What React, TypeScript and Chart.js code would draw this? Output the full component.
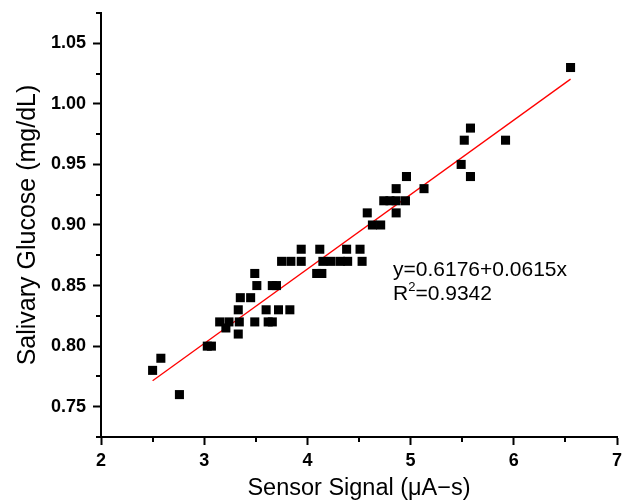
import React, { useEffect, useRef } from "react";
import { Chart, registerables } from "chart.js";

Chart.register(...registerables);

// Scatter data
const sensorSignal: number[] = [
  2.50, 2.58, 2.76, 3.03, 3.07, 3.15, 3.24, 3.34, 3.21, 3.33,
  3.33, 3.35, 3.45, 3.49, 3.51, 3.49, 3.60, 3.62, 3.66, 3.66,
  3.70, 3.72, 3.83, 3.75, 3.84, 3.94, 3.94, 4.09, 4.14, 4.12,
  4.15, 4.23, 4.32, 4.39, 4.38, 4.51, 4.53, 4.58, 4.63, 4.71,
  4.74, 4.80, 4.86, 4.95, 4.86, 4.86, 4.96, 5.13, 5.49, 5.52,
  5.58, 5.58, 5.92, 6.55,
];
const salivaryGlucose: number[] = [
  0.78, 0.79, 0.76, 0.80, 0.80, 0.82, 0.82, 0.82, 0.815, 0.81,
  0.83, 0.84, 0.84, 0.86, 0.85, 0.82, 0.83, 0.82, 0.82, 0.85,
  0.85, 0.83, 0.83, 0.87, 0.87, 0.87, 0.88, 0.86, 0.86, 0.88,
  0.87, 0.87, 0.87, 0.87, 0.88, 0.88, 0.87, 0.91, 0.90, 0.90,
  0.92, 0.92, 0.92, 0.92, 0.91, 0.93, 0.94, 0.93, 0.95, 0.97,
  0.98, 0.94, 0.97, 1.03,
];

// Fitted line endpoints (y = 0.6176 + 0.0615x)
const fitX: number[] = [2.5, 6.55];
const fitY: number[] = [0.7714, 1.0204];

const xMajorTicks: number[] = [2, 3, 4, 5, 6, 7];
const yMajorTicks: number[] = [0.75, 0.8, 0.85, 0.9, 0.95, 1.0, 1.05];
const xMinorTicks: number[] = [2.5, 3.5, 4.5, 5.5, 6.5];
const yMinorTicks: number[] = [0.725, 0.775, 0.825, 0.875, 0.925, 0.975, 1.025, 1.075];

const equationText = "y=0.6176+0.0615x";
const r2Value = "=0.9342";
const labelAnchorX = 4.83;
const eqAnchorY = 0.858;
const r2AnchorY = 0.838;

const FONT = "'Liberation Sans', Arial, Helvetica, sans-serif";

const minorTicksPlugin = {
  id: "minorTicks",
  afterDraw(chart: any) {
    const { ctx, scales } = chart;
    const xs = scales.x;
    const ys = scales.y;
    ctx.save();
    ctx.strokeStyle = "#000";
    ctx.lineWidth = 2;
    ctx.beginPath();
    xMinorTicks.forEach((v) => {
      const px = Math.round(xs.getPixelForValue(v));
      ctx.moveTo(px, xs.top);
      ctx.lineTo(px, xs.top + 5);
    });
    yMinorTicks.forEach((v) => {
      const py = Math.round(ys.getPixelForValue(v));
      ctx.moveTo(ys.right, py);
      ctx.lineTo(ys.right - 5, py);
    });
    ctx.stroke();

    // annotation text
    ctx.fillStyle = "#000";
    ctx.textBaseline = "alphabetic";
    ctx.textAlign = "left";
    ctx.font = `21px ${FONT}`;
    const ax = xs.getPixelForValue(labelAnchorX);
    ctx.fillText(equationText, ax, ys.getPixelForValue(eqAnchorY));
    const ry = ys.getPixelForValue(r2AnchorY);
    ctx.fillText("R", ax, ry);
    const rw = ctx.measureText("R").width;
    ctx.font = `13px ${FONT}`;
    ctx.fillText("2", ax + rw, ry - 9);
    const sw = ctx.measureText("2").width;
    ctx.font = `21px ${FONT}`;
    ctx.fillText(r2Value, ax + rw + sw, ry);
    ctx.restore();
  },
};

const zeroPad = (s: any) => {
  s.paddingLeft = 0;
  s.paddingRight = 0;
  s.paddingTop = 0;
  s.paddingBottom = 0;
};

export default function App() {
  const canvasRef = useRef<HTMLCanvasElement | null>(null);

  useEffect(() => {
    const canvas = canvasRef.current;
    if (!canvas) return;
    const points = sensorSignal.map((x, i) => ({ x, y: salivaryGlucose[i] }));
    const fit = fitX.map((x, i) => ({ x, y: fitY[i] }));
    const chart = new Chart(canvas, {
      type: "scatter",
      data: {
        datasets: [
          {
            type: "line",
            data: fit,
            borderColor: "#ff0000",
            borderWidth: 1.3,
            pointRadius: 0,
            fill: false,
            order: 2,
          },
          {
            data: points,
            pointStyle: "rect",
            pointRadius: 6.4,
            pointBorderWidth: 0,
            backgroundColor: "#000",
            borderColor: "#000",
            order: 1,
          },
        ],
      },
      options: {
        animation: false,
        responsive: false,
        devicePixelRatio: 1,
        layout: { padding: { left: 0, right: 7, top: 13, bottom: 0 } },
        plugins: { legend: { display: false }, tooltip: { enabled: false } },
        scales: {
          x: {
            type: "linear",
            min: 2,
            max: 7,
            afterFit: (s: any) => {
              s.height = 67;
              zeroPad(s);
            },
            afterBuildTicks: (s: any) => {
              s.ticks = xMajorTicks.map((v) => ({ value: v }));
            },
            border: { display: true, color: "#000", width: 2 },
            grid: {
              display: true,
              drawOnChartArea: false,
              drawTicks: true,
              tickLength: 8,
              tickWidth: 2,
              tickColor: "#000",
            },
            ticks: {
              color: "#000",
              padding: 5,
              font: { family: FONT, size: 18, weight: "bold" },
              callback: (v: any) => String(v),
            },
            title: {
              display: true,
              text: "Sensor Signal (μA−s)",
              color: "#000",
              font: { family: FONT, size: 23.5 },
              padding: { top: 0, bottom: 1 },
            },
          },
          y: {
            type: "linear",
            min: 0.725,
            max: 1.075,
            afterFit: (s: any) => {
              s.width = 101;
              zeroPad(s);
            },
            afterBuildTicks: (s: any) => {
              s.ticks = yMajorTicks.map((v) => ({ value: v }));
            },
            border: { display: true, color: "#000", width: 2 },
            grid: {
              display: true,
              drawOnChartArea: false,
              drawTicks: true,
              tickLength: 8,
              tickWidth: 2,
              tickColor: "#000",
            },
            ticks: {
              color: "#000",
              padding: 7,
              font: { family: FONT, size: 18, weight: "bold" },
              callback: (v: any) => Number(v).toFixed(2),
            },
            title: {
              display: true,
              text: "Salivary Glucose (mg/dL)",
              color: "#000",
              font: { family: FONT, size: 25 },
              padding: { top: 13, bottom: 0 },
            },
          },
        },
      },
      plugins: [minorTicksPlugin],
    });
    return () => chart.destroy();
  }, []);

  return (
    <div style={{ position: "fixed", left: 0, top: 0, width: 624, height: 504, background: "#fff" }}>
      <canvas ref={canvasRef} width={624} height={504} style={{ width: 624, height: 504 }} />
    </div>
  );
}
